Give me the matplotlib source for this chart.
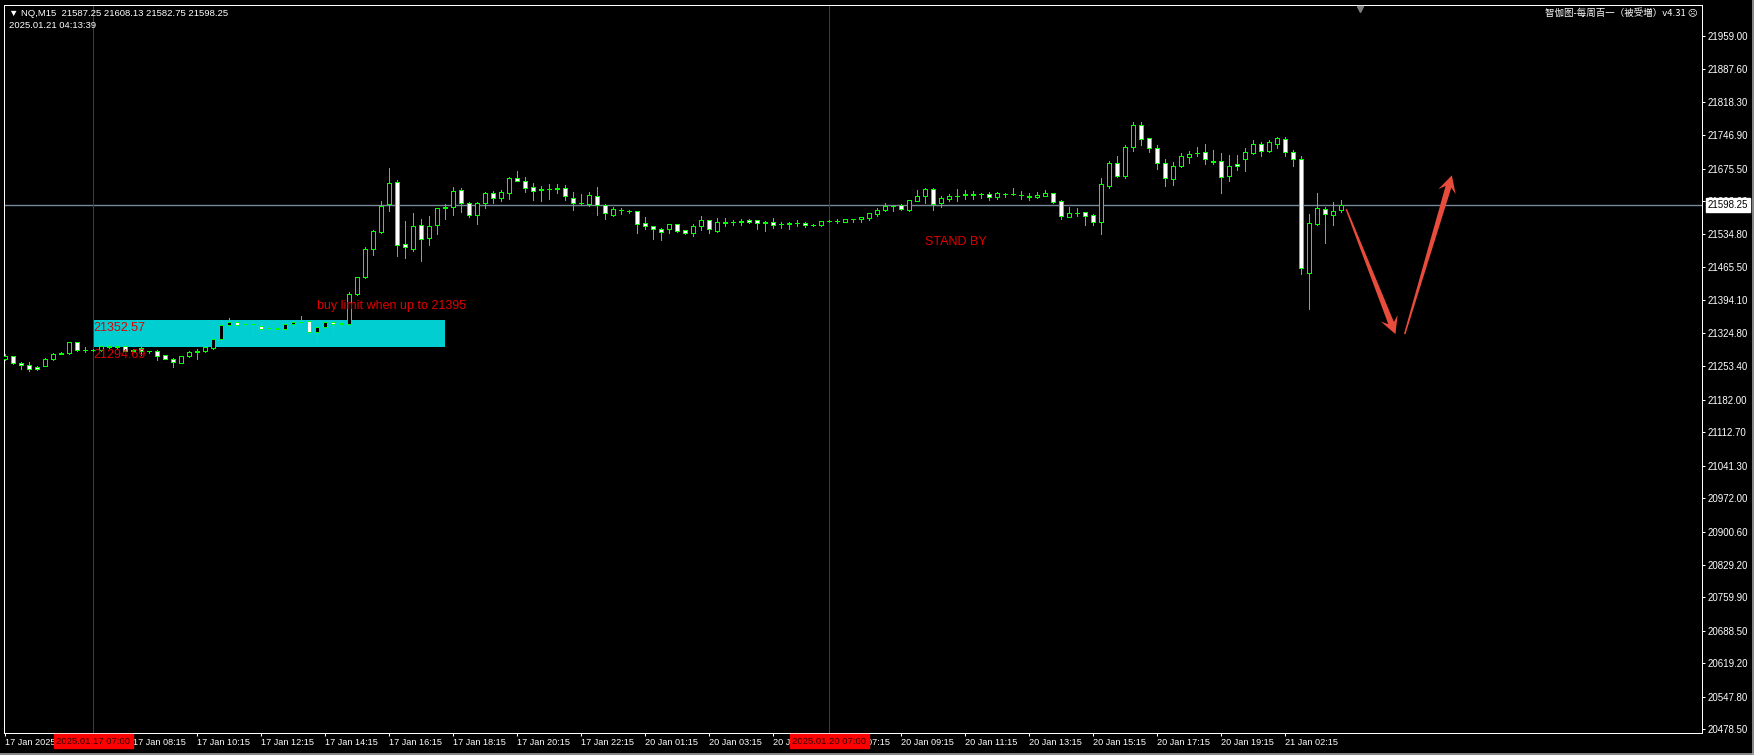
import numpy as np
import matplotlib
matplotlib.use('Agg')
import matplotlib.pyplot as plt
from matplotlib.patches import Rectangle, Polygon
from matplotlib.lines import Line2D
from matplotlib.transforms import IdentityTransform

# NQ M15 candles (bar 0 = 17 Jan 04:15)
opens = [21270, 21275, 21260, 21256, 21251, 21254, 21270, 21280, 21281, 21305,
         21288, 21289, 21288, 21296, 21295, 21296, 21287, 21292, 21285, 21287,
         21277, 21270, 21261, 21275, 21283, 21285, 21293, 21311, 21341, 21349,
         21343, 21344, 21340, 21335, 21336, 21334, 21344, 21347, 21350, 21326,
         21337, 21348, 21344, 21343, 21407, 21443, 21503, 21541, 21599, 21646,
         21514, 21504, 21554, 21528, 21554, 21591, 21593, 21629, 21603, 21576,
         21601, 21623, 21613, 21624, 21655, 21650, 21636, 21630, 21631, 21631,
         21633, 21612, 21603, 21600, 21618, 21597, 21577, 21588, 21586, 21584,
         21559, 21552, 21546, 21547, 21557, 21544, 21537, 21552, 21565, 21543,
         21560, 21561, 21562, 21565, 21565, 21560, 21561, 21558, 21558, 21559,
         21559, 21554, 21554, 21563, 21564, 21562, 21567, 21567, 21571, 21579,
         21588, 21596, 21597, 21588, 21607, 21616, 21631, 21601, 21611, 21618,
         21619, 21620, 21621, 21621, 21614, 21622, 21621, 21620, 21618, 21614,
         21618, 21623, 21606, 21573, 21581, 21582, 21576, 21562, 21638, 21687,
         21660, 21722, 21769, 21740, 21719, 21687, 21654, 21680, 21701, 21709,
         21710, 21690, 21691, 21659, 21685, 21697, 21708, 21729, 21712, 21727,
         21738, 21710, 21695, 21453, 21558, 21589, 21577, 21587.25]
highs = [21280, 21276, 21263, 21262, 21253, 21271, 21282, 21284, 21306, 21306,
         21294, 21291, 21298, 21298, 21297, 21297, 21291, 21302, 21287, 21288,
         21278, 21272, 21276, 21285, 21290, 21296, 21313, 21342, 21356, 21350,
         21346, 21348, 21345, 21339, 21338, 21344, 21349, 21361, 21351, 21338,
         21348, 21350, 21348, 21412, 21445, 21509, 21544, 21606, 21676, 21651,
         21564, 21580, 21568, 21574, 21592, 21600, 21637, 21634, 21605, 21605,
         21626, 21627, 21630, 21657, 21670, 21658, 21645, 21638, 21643, 21643,
         21640, 21626, 21621, 21626, 21636, 21600, 21593, 21592, 21587, 21585,
         21572, 21553, 21549, 21558, 21558, 21545, 21557, 21574, 21566, 21569,
         21570, 21566, 21568, 21568, 21566, 21564, 21571, 21562, 21562, 21566,
         21561, 21557, 21564, 21566, 21567, 21568, 21568, 21573, 21581, 21591,
         21602, 21598, 21600, 21609, 21629, 21635, 21633, 21618, 21621, 21631,
         21630, 21627, 21624, 21626, 21626, 21623, 21634, 21628, 21623, 21626,
         21630, 21624, 21608, 21594, 21591, 21583, 21578, 21655, 21692, 21703,
         21725, 21774, 21774, 21741, 21726, 21697, 21689, 21708, 21713, 21722,
         21729, 21715, 21709, 21704, 21704, 21719, 21736, 21732, 21737, 21743,
         21743, 21715, 21702, 21579, 21623, 21593, 21604, 21608.13]
lows = [21266, 21258, 21247, 21244, 21245, 21253, 21267, 21279, 21280, 21286,
        21283, 21286, 21287, 21293, 21293, 21285, 21286, 21277, 21282, 21267,
        21268, 21251, 21260, 21273, 21270, 21283, 21290, 21309, 21340, 21332,
        21338, 21324, 21332, 21331, 21329, 21333, 21342, 21345, 21324, 21305,
        21335, 21329, 21340, 21342, 21405, 21441, 21491, 21538, 21584, 21489,
        21485, 21500, 21478, 21512, 21536, 21568, 21576, 21583, 21572, 21558,
        21592, 21603, 21606, 21611, 21648, 21626, 21608, 21606, 21611, 21623,
        21608, 21587, 21598, 21596, 21576, 21568, 21575, 21578, 21580, 21539,
        21547, 21525, 21523, 21537, 21541, 21535, 21532, 21545, 21537, 21541,
        21553, 21555, 21556, 21559, 21547, 21543, 21549, 21549, 21547, 21553,
        21551, 21552, 21553, 21561, 21560, 21561, 21562, 21561, 21566, 21575,
        21586, 21584, 21587, 21585, 21606, 21603, 21588, 21593, 21607, 21607,
        21611, 21611, 21612, 21608, 21610, 21614, 21619, 21611, 21608, 21612,
        21617, 21603, 21568, 21572, 21575, 21555, 21556, 21536, 21635, 21658,
        21655, 21712, 21726, 21710, 21675, 21639, 21641, 21678, 21688, 21703,
        21685, 21685, 21623, 21650, 21673, 21671, 21706, 21703, 21710, 21720,
        21703, 21682, 21451, 21376, 21554, 21517, 21555, 21582.75]
closes = [21275, 21260, 21256, 21247, 21248, 21270, 21280, 21282, 21305, 21288,
          21289, 21288, 21297, 21295, 21296, 21286, 21289, 21285, 21285, 21276,
          21270, 21262, 21275, 21284, 21286, 21294, 21312, 21341, 21349, 21342,
          21344, 21343, 21334, 21336, 21333, 21343, 21347, 21349, 21326, 21337,
          21347, 21344, 21345, 21408, 21443, 21503, 21542, 21596, 21644, 21513,
          21508, 21552, 21526, 21552, 21591, 21593, 21628, 21601, 21576, 21603,
          21623, 21613, 21626, 21655, 21650, 21635, 21628, 21631, 21631, 21633,
          21618, 21603, 21603, 21619, 21598, 21580, 21589, 21588, 21585, 21558,
          21552, 21546, 21541, 21557, 21543, 21537, 21552, 21565, 21546, 21561,
          21561, 21561, 21563, 21562, 21559, 21561, 21556, 21558, 21559, 21559,
          21554, 21555, 21563, 21564, 21564, 21567, 21567, 21572, 21580, 21588,
          21596, 21596, 21589, 21608, 21616, 21631, 21599, 21612, 21618, 21618,
          21621, 21621, 21621, 21615, 21623, 21622, 21621, 21620, 21615, 21620,
          21623, 21605, 21575, 21581, 21581, 21575, 21561, 21643, 21687, 21660,
          21721, 21769, 21739, 21719, 21687, 21655, 21681, 21702, 21707, 21709,
          21695, 21691, 21657, 21680, 21680, 21711, 21729, 21712, 21732, 21740,
          21710, 21695, 21463, 21559, 21591, 21578, 21586, 21598.25]

time_tick_labels = ['17 Jan 2025', '17 Jan 06:15', '17 Jan 08:15', '17 Jan 10:15',
                    '17 Jan 12:15', '17 Jan 14:15', '17 Jan 16:15', '17 Jan 18:15',
                    '17 Jan 20:15', '17 Jan 22:15', '20 Jan 01:15', '20 Jan 03:15',
                    '20 Jan 05:15', '20 Jan 07:15', '20 Jan 09:15', '20 Jan 11:15',
                    '20 Jan 13:15', '20 Jan 15:15', '20 Jan 17:15', '20 Jan 19:15',
                    '21 Jan 02:15']
price_ticks = [21959.00, 21887.60, 21818.30, 21746.90, 21675.50, 21606.20, 21534.80,
               21465.50, 21394.10, 21324.80, 21253.40, 21182.00, 21112.70, 21041.30,
               20972.00, 20900.60, 20829.20, 20759.90, 20688.50, 20619.20, 20547.80,
               20478.50]

vline_bars = [11, 103]
vline_labels = ['2025.01.17 07:00', '2025.01.20 07:00']

zone_bars = [11, 55]
zone_prices = [21294.69, 21352.57]

notes = ['buy limit when up to 21395', 'STAND BY']
note_bars = [39, 115]
note_prices = [21395, 21532]

arrow_from = [(167.6, 21589), (174.9, 21322)]
arrow_to = [(173.75, 21322), (180.8, 21661)]

bid = closes[-1]
LIME = '#00ff00'
FONT = ['Liberation Sans', 'DejaVu Sans']
PX = 0.72  # one pixel at 100 dpi, in points

fig = plt.figure(figsize=(17.54, 7.55), dpi=100, facecolor='black')
ax = fig.add_axes([3.5 / 1754, 22 / 755, 1698 / 1754, 728.5 / 755])
ax.set_facecolor('black')
ax.set_xlim(-0.225, 212.0)
ax.set_ylim(20470.5, 22025.8)

x = np.arange(len(opens))
o = np.array(opens); h = np.array(highs); l = np.array(lows); c = np.array(closes)
up = c >= o

# zone (background)
ax.add_patch(Rectangle((zone_bars[0], zone_prices[0]), zone_bars[1] - zone_bars[0],
                       zone_prices[1] - zone_prices[0], fc='#00ced1', ec='none', zorder=0.5))

# candles
ax.vlines(x, l, h, color=LIME, lw=PX, antialiased=False, zorder=3)
ax.bar(x, np.abs(c - o), bottom=np.minimum(o, c), width=0.5,
       color=np.where(up, 'black', 'white'), edgecolor=LIME, linewidth=PX,
       antialiased=False, zorder=4)

# bid line and vertical markers
ax.axhline(bid, color='#778899', lw=1.0, zorder=2)
for b in vline_bars:
    ax.axvline(b, color='#d00000', lw=PX, antialiased=False, zorder=2.5)

# zone labels and notes
for p in zone_prices[::-1]:
    ax.annotate(f'{p:.2f}', (zone_bars[0], p), xytext=(0, -2), textcoords='offset pixels',
                ha='left', va='top', color='#e00000', fontsize=9, family=FONT, zorder=5)
for t, b, p in zip(notes, note_bars, note_prices):
    ax.text(b, p, t, ha='left', va='top', color='#e00000', fontsize=9, family=FONT, zorder=5)

# axes styling
for s in ax.spines.values():
    s.set_color('white')
    s.set_linewidth(PX)
ax.yaxis.tick_right()
ax.set_yticks(price_ticks)
ax.set_yticklabels([f'{v:.2f}' for v in price_ticks])
ax.set_xticks(np.arange(0, 8 * len(time_tick_labels), 8))
ax.set_xticklabels(time_tick_labels, ha='left')
ax.tick_params(axis='both', colors='white', direction='out', length=2.5, width=PX,
               labelsize=7)
ax.tick_params(axis='x', labelsize=6.6, pad=1.2)
ax.tick_params(axis='y', pad=2)
for lab in ax.get_xticklabels() + ax.get_yticklabels():
    lab.set_family(FONT)

# price tag on the axis
ax.annotate(f'{bid:.2f}', (1, bid), xycoords=('axes fraction', 'data'),
            xytext=(6, 0), textcoords='offset pixels', ha='left', va='center',
            color='black', fontsize=7, family=FONT, annotation_clip=False,
            bbox=dict(boxstyle='square,pad=0.2', fc='white', ec='white'), zorder=10)

# red time tags on the time axis
for b, t in zip(vline_bars, vline_labels):
    ax.annotate(t, (b, 0), xycoords=('data', 'axes fraction'), xytext=(0, -8),
                textcoords='offset pixels', ha='center', va='center', color='#300000',
                fontsize=6.8, family=FONT, annotation_clip=False,
                bbox=dict(boxstyle='square,pad=0.25', fc='#ff0000', ec='#ff0000'), zorder=10)

# header texts
ax.annotate(f'▼ NQ,M15  {opens[-1]:.2f} {highs[-1]:.2f} {lows[-1]:.2f} {closes[-1]:.2f}',
            (0, 1), xycoords='axes fraction', xytext=(5.5, -8.5), textcoords='offset pixels',
            ha='left', va='center', color='white', fontsize=6.8, family=FONT)
ax.annotate('2025.01.21 04:13:39', (0, 1), xycoords='axes fraction', xytext=(5.8, -21),
            textcoords='offset pixels', ha='left', va='center', color='white',
            fontsize=6.8, family=FONT)
ax.annotate('智伽图-每周百一（被受増）v4.31 ☹', (1, 1), xycoords='axes fraction',
            xytext=(-4, -9), textcoords='offset pixels', ha='right', va='center',
            color='white', fontsize=6.8, family=['Noto Sans CJK SC', 'DejaVu Sans'])
ax.plot([169.3], [1 - 4 / 728.5], transform=ax.get_xaxis_transform(), marker='v', ms=5,
        color='#808080', clip_on=False, zorder=10)


def draw_arrow(start, end, w0=1.5, w1=6, hw=18, hl=17, color='#e84c3d'):
    p0 = ax.transData.transform(start)
    p1 = ax.transData.transform(end)
    d = p1 - p0
    d = d / np.hypot(*d)
    n = np.array([-d[1], d[0]])
    neck = p1 - d * hl * 0.7
    barb = p1 - d * hl
    pts = [p0 + n * w0 / 2, neck + n * w1 / 2, barb + n * hw / 2, p1,
           barb - n * hw / 2, neck - n * w1 / 2, p0 - n * w0 / 2]
    ax.add_patch(Polygon(pts, closed=True, transform=IdentityTransform(),
                         fc=color, ec='none', zorder=8))


for a, b in zip(arrow_from, arrow_to):
    draw_arrow(a, b)

# window border on right and bottom
fig.add_artist(Line2D([0, 1], [0.0007, 0.0007], transform=fig.transFigure,
                      color='#a0a0a0', lw=1.2))
fig.add_artist(Line2D([0.9996, 0.9996], [0, 1], transform=fig.transFigure,
                      color='#a0a0a0', lw=1.2))

fig.savefig('out.png', dpi=100, facecolor='black')
